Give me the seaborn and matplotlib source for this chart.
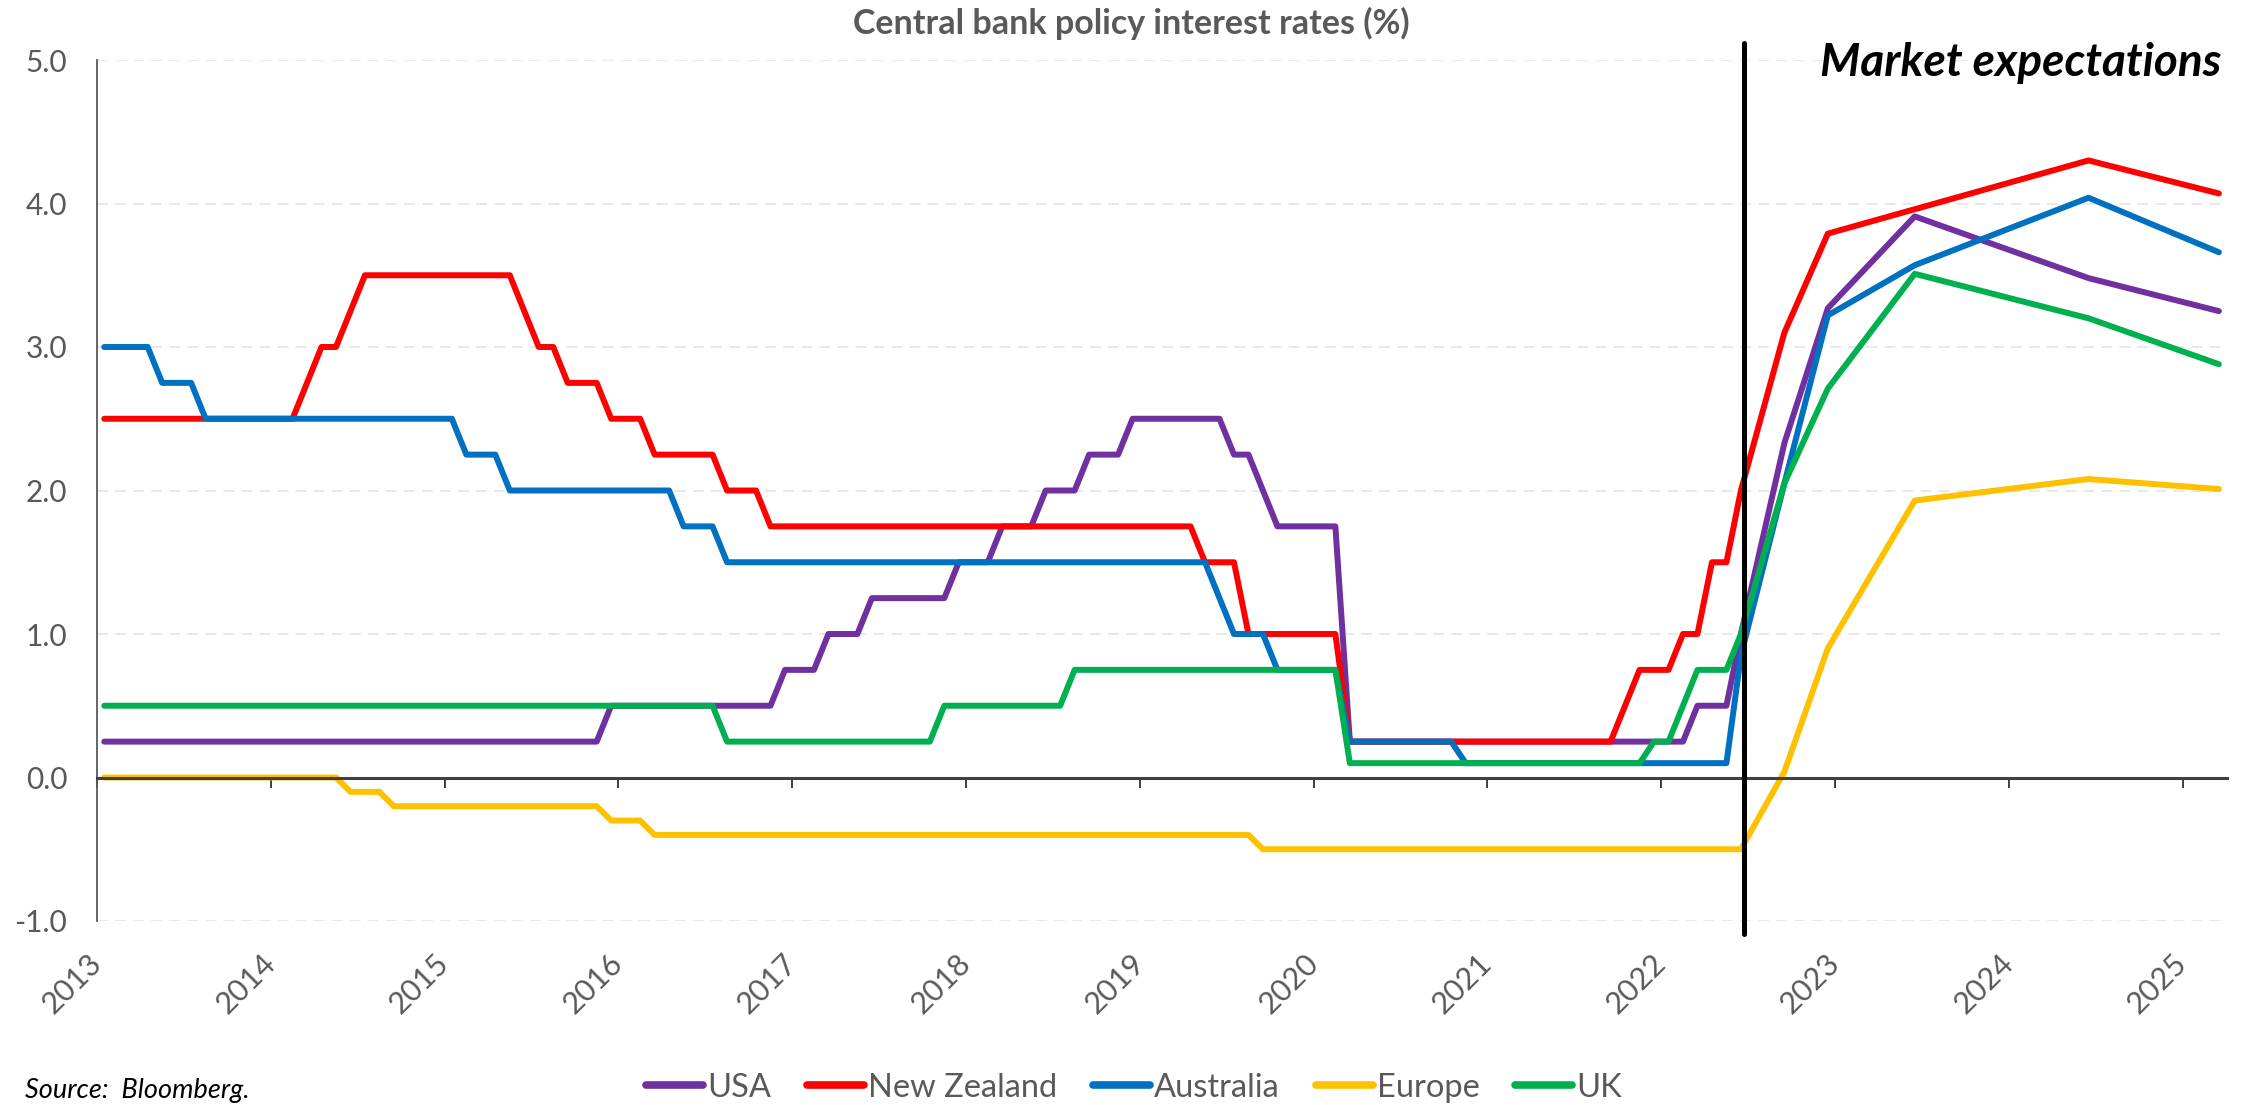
import pandas as pd
import matplotlib
matplotlib.use("Agg")
import matplotlib.pyplot as plt
import matplotlib.ticker as mticker
import seaborn as sns

# ---------------------------------------------------------------------------
# Data: monthly policy rates (%) Jan 2013 - Jun 2022, then market-implied path
# ---------------------------------------------------------------------------
countries = ["USA", "New Zealand", "Australia", "Europe", "UK"]
colors = ["#7030A0", "#FF0000", "#0070C0", "#FFC000", "#00B050"]

hist_start = "2013-01"

usa_hist = [
    0.25, 0.25, 0.25, 0.25, 0.25, 0.25, 0.25, 0.25, 0.25, 0.25, 0.25, 0.25,  # 2013
    0.25, 0.25, 0.25, 0.25, 0.25, 0.25, 0.25, 0.25, 0.25, 0.25, 0.25, 0.25,  # 2014
    0.25, 0.25, 0.25, 0.25, 0.25, 0.25, 0.25, 0.25, 0.25, 0.25, 0.25, 0.50,  # 2015
    0.50, 0.50, 0.50, 0.50, 0.50, 0.50, 0.50, 0.50, 0.50, 0.50, 0.50, 0.75,  # 2016
    0.75, 0.75, 1.00, 1.00, 1.00, 1.25, 1.25, 1.25, 1.25, 1.25, 1.25, 1.50,  # 2017
    1.50, 1.50, 1.75, 1.75, 1.75, 2.00, 2.00, 2.00, 2.25, 2.25, 2.25, 2.50,  # 2018
    2.50, 2.50, 2.50, 2.50, 2.50, 2.50, 2.25, 2.25, 2.00, 1.75, 1.75, 1.75,  # 2019
    1.75, 1.75, 0.25, 0.25, 0.25, 0.25, 0.25, 0.25, 0.25, 0.25, 0.25, 0.25,  # 2020
    0.25, 0.25, 0.25, 0.25, 0.25, 0.25, 0.25, 0.25, 0.25, 0.25, 0.25, 0.25,  # 2021
    0.25, 0.25, 0.50, 0.50, 0.50, 1.00,                                      # 2022
]
nz_hist = [
    2.50, 2.50, 2.50, 2.50, 2.50, 2.50, 2.50, 2.50, 2.50, 2.50, 2.50, 2.50,
    2.50, 2.50, 2.75, 3.00, 3.00, 3.25, 3.50, 3.50, 3.50, 3.50, 3.50, 3.50,
    3.50, 3.50, 3.50, 3.50, 3.50, 3.25, 3.00, 3.00, 2.75, 2.75, 2.75, 2.50,
    2.50, 2.50, 2.25, 2.25, 2.25, 2.25, 2.25, 2.00, 2.00, 2.00, 1.75, 1.75,
    1.75, 1.75, 1.75, 1.75, 1.75, 1.75, 1.75, 1.75, 1.75, 1.75, 1.75, 1.75,
    1.75, 1.75, 1.75, 1.75, 1.75, 1.75, 1.75, 1.75, 1.75, 1.75, 1.75, 1.75,
    1.75, 1.75, 1.75, 1.75, 1.50, 1.50, 1.50, 1.00, 1.00, 1.00, 1.00, 1.00,
    1.00, 1.00, 0.25, 0.25, 0.25, 0.25, 0.25, 0.25, 0.25, 0.25, 0.25, 0.25,
    0.25, 0.25, 0.25, 0.25, 0.25, 0.25, 0.25, 0.25, 0.25, 0.50, 0.75, 0.75,
    0.75, 1.00, 1.00, 1.50, 1.50, 2.00,
]
aus_hist = [
    3.00, 3.00, 3.00, 3.00, 2.75, 2.75, 2.75, 2.50, 2.50, 2.50, 2.50, 2.50,
    2.50, 2.50, 2.50, 2.50, 2.50, 2.50, 2.50, 2.50, 2.50, 2.50, 2.50, 2.50,
    2.50, 2.25, 2.25, 2.25, 2.00, 2.00, 2.00, 2.00, 2.00, 2.00, 2.00, 2.00,
    2.00, 2.00, 2.00, 2.00, 1.75, 1.75, 1.75, 1.50, 1.50, 1.50, 1.50, 1.50,
    1.50, 1.50, 1.50, 1.50, 1.50, 1.50, 1.50, 1.50, 1.50, 1.50, 1.50, 1.50,
    1.50, 1.50, 1.50, 1.50, 1.50, 1.50, 1.50, 1.50, 1.50, 1.50, 1.50, 1.50,
    1.50, 1.50, 1.50, 1.50, 1.50, 1.25, 1.00, 1.00, 1.00, 0.75, 0.75, 0.75,
    0.75, 0.75, 0.25, 0.25, 0.25, 0.25, 0.25, 0.25, 0.25, 0.25, 0.10, 0.10,
    0.10, 0.10, 0.10, 0.10, 0.10, 0.10, 0.10, 0.10, 0.10, 0.10, 0.10, 0.10,
    0.10, 0.10, 0.10, 0.10, 0.10, 0.85,
]
eur_hist = [
    0.00, 0.00, 0.00, 0.00, 0.00, 0.00, 0.00, 0.00, 0.00, 0.00, 0.00, 0.00,
    0.00, 0.00, 0.00, 0.00, 0.00, -0.10, -0.10, -0.10, -0.20, -0.20, -0.20, -0.20,
    -0.20, -0.20, -0.20, -0.20, -0.20, -0.20, -0.20, -0.20, -0.20, -0.20, -0.20, -0.30,
    -0.30, -0.30, -0.40, -0.40, -0.40, -0.40, -0.40, -0.40, -0.40, -0.40, -0.40, -0.40,
    -0.40, -0.40, -0.40, -0.40, -0.40, -0.40, -0.40, -0.40, -0.40, -0.40, -0.40, -0.40,
    -0.40, -0.40, -0.40, -0.40, -0.40, -0.40, -0.40, -0.40, -0.40, -0.40, -0.40, -0.40,
    -0.40, -0.40, -0.40, -0.40, -0.40, -0.40, -0.40, -0.40, -0.50, -0.50, -0.50, -0.50,
    -0.50, -0.50, -0.50, -0.50, -0.50, -0.50, -0.50, -0.50, -0.50, -0.50, -0.50, -0.50,
    -0.50, -0.50, -0.50, -0.50, -0.50, -0.50, -0.50, -0.50, -0.50, -0.50, -0.50, -0.50,
    -0.50, -0.50, -0.50, -0.50, -0.50, -0.50,
]
uk_hist = [
    0.50, 0.50, 0.50, 0.50, 0.50, 0.50, 0.50, 0.50, 0.50, 0.50, 0.50, 0.50,
    0.50, 0.50, 0.50, 0.50, 0.50, 0.50, 0.50, 0.50, 0.50, 0.50, 0.50, 0.50,
    0.50, 0.50, 0.50, 0.50, 0.50, 0.50, 0.50, 0.50, 0.50, 0.50, 0.50, 0.50,
    0.50, 0.50, 0.50, 0.50, 0.50, 0.50, 0.50, 0.25, 0.25, 0.25, 0.25, 0.25,
    0.25, 0.25, 0.25, 0.25, 0.25, 0.25, 0.25, 0.25, 0.25, 0.25, 0.50, 0.50,
    0.50, 0.50, 0.50, 0.50, 0.50, 0.50, 0.50, 0.75, 0.75, 0.75, 0.75, 0.75,
    0.75, 0.75, 0.75, 0.75, 0.75, 0.75, 0.75, 0.75, 0.75, 0.75, 0.75, 0.75,
    0.75, 0.75, 0.10, 0.10, 0.10, 0.10, 0.10, 0.10, 0.10, 0.10, 0.10, 0.10,
    0.10, 0.10, 0.10, 0.10, 0.10, 0.10, 0.10, 0.10, 0.10, 0.10, 0.10, 0.25,
    0.25, 0.50, 0.75, 0.75, 0.75, 1.00,
]

# Market-implied path
forecast_months = ["2022-09", "2022-12", "2023-06", "2024-06", "2025-03"]
usa_fcst = [2.33, 3.27, 3.91, 3.48, 3.25]
nz_fcst = [3.10, 3.79, 3.96, 4.30, 4.07]
aus_fcst = [2.05, 3.22, 3.57, 4.04, 3.66]
eur_fcst = [0.04, 0.90, 1.93, 2.08, 2.01]
uk_fcst = [2.05, 2.71, 3.51, 3.20, 2.88]

year_ticks = list(range(2013, 2026))
y_ticks = [-1.0, 0.0, 1.0, 2.0, 3.0, 4.0, 5.0]
divider_date = "2022-06-24"

hist_series = [usa_hist, nz_hist, aus_hist, eur_hist, uk_hist]
fcst_series = [usa_fcst, nz_fcst, aus_fcst, eur_fcst, uk_fcst]


def decimal_year(periods):
    """Mid-month position of monthly periods on a year axis."""
    p = pd.PeriodIndex(periods, freq="M")
    return list(p.year + (p.month - 0.5) / 12.0)


hist_x = decimal_year(pd.period_range(hist_start, periods=len(usa_hist), freq="M"))
fcst_x = decimal_year(forecast_months)
div_ts = pd.Timestamp(divider_date)
divider_x = div_ts.year + (div_ts.dayofyear - 1) / 365.0

rows = []
for name, h, f in zip(countries, hist_series, fcst_series):
    for x, v in zip(hist_x + fcst_x, h + f):
        rows.append({"date": x, "rate": v, "country": name})
df = pd.DataFrame(rows)

# ---------------------------------------------------------------------------
# Styling
# ---------------------------------------------------------------------------
sns.set_theme(style="white")
plt.rcParams["font.family"] = ["Lato", "DejaVu Sans"]
plt.rcParams["axes.unicode_minus"] = False

GREY = "#595959"
W, H = 2259, 1105
fig = plt.figure(figsize=(W / 100, H / 100), dpi=100)
ax = fig.add_axes([97 / W, 1 - 921 / H, (2227 - 97) / W, (921 - 60) / H])

sns.lineplot(
    data=df, x="date", y="rate", hue="country", hue_order=countries,
    palette=colors, linewidth=4.3, estimator=None, sort=True, ax=ax,
)
for line in ax.lines:
    line.set_solid_capstyle("round")
    line.set_solid_joinstyle("round")

ax.set_xlim(2013, 2025.255)
ax.set_ylim(-1, 5)
ax.set_xlabel("")
ax.set_ylabel("")

# light dashed horizontal grid
ax.set_yticks(y_ticks)
ax.yaxis.set_major_formatter(mticker.FormatStrFormatter("%.1f"))
ax.yaxis.grid(True, color="#E6E6E6", linestyle=(0, (6, 4)), linewidth=1.3)
ax.xaxis.grid(False)
ax.set_axisbelow(True)

for s in ("top", "right"):
    ax.spines[s].set_visible(False)
ax.spines["left"].set_color(GREY)
ax.spines["left"].set_linewidth(1.3)
ax.spines["bottom"].set_position(("data", 0))
ax.spines["bottom"].set_color("#404040")
ax.spines["bottom"].set_linewidth(2.2)

ax.set_xticks(year_ticks)
ax.tick_params(axis="x", bottom=True, direction="out", length=7, width=1.4,
               color="#404040", labelbottom=False)
ax.tick_params(axis="y", left=False, length=0, pad=21.5, labelsize=21.5,
               labelcolor=GREY)

# year labels sit below the plotting area
sec = ax.secondary_xaxis("bottom")
sec.set_xticks(year_ticks, labels=[str(y) for y in year_ticks],
               rotation=45, ha="right", va="center", rotation_mode="anchor")
sec.tick_params(bottom=False, length=0, pad=27, labelsize=22, labelcolor=GREY)
sec.spines["bottom"].set_visible(False)

# divider between observed rates and market expectations
ax.axvline(divider_x, ymin=-0.015, ymax=1.02, color="black", lw=3.6,
           clip_on=False, zorder=6)

# legend along the bottom
handles, labels = ax.get_legend_handles_labels()
ax.get_legend().remove()
leg = fig.legend(handles, labels, loc="center", bbox_to_anchor=(0.502, 0.0155),
                 ncol=5, frameon=False, fontsize=23.5, handlelength=1.75,
                 handletextpad=0.12, columnspacing=1.1, labelcolor=GREY)
for h in leg.legend_handles:
    h.set_linewidth(5.5)
    h.set_solid_capstyle("round")

fig.text(0.5009, 1 - 34 / H, "Central bank policy interest rates (%)",
         ha="center", va="baseline", fontsize=24.5, fontweight="bold", color=GREY)
fig.text(2221 / W, 1 - 76 / H, "Market expectations", ha="right", va="baseline",
         fontsize=33, fontweight="bold", fontstyle="italic", color="black")
fig.text(25 / W, 1 - 1098 / H, "Source:  Bloomberg.", ha="left", va="baseline",
         fontsize=19.5, fontstyle="italic", color="black")

fig.savefig("out.png", dpi=100, facecolor="white")
